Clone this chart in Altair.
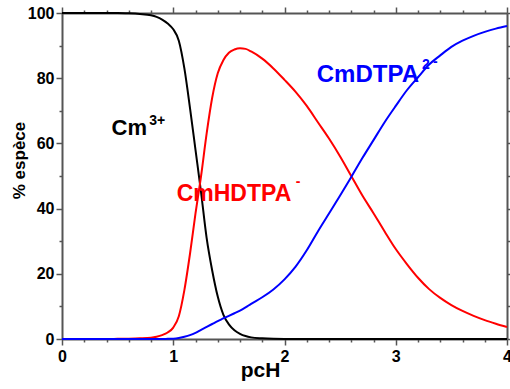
import altair as alt
import pandas as pd
import numpy as np

# ---- data ----
pch = [0.0, 0.2, 0.4, 0.5, 0.6, 0.7, 0.8, 0.85, 0.9, 0.95, 1.0, 1.05, 1.1, 1.15,
       1.2, 1.25, 1.3, 1.35, 1.4, 1.45, 1.5, 1.55, 1.6, 1.65, 1.7, 1.8, 1.9, 2.0,
       2.1, 2.2, 2.3, 2.4, 2.5, 2.6, 2.7, 2.8, 2.9, 3.0, 3.1, 3.2, 3.3, 3.4, 3.5,
       3.6, 3.7, 3.8, 3.9, 4.0]

cm3 = [100, 100, 100, 100, 99.9, 99.7, 99.3, 98.8, 98.0, 96.8, 95.0, 91.5, 83, 71,
       58, 45, 31, 21, 13, 7.5, 4.5, 2.7, 1.6, 0.9, 0.5, 0.2, 0.05, 0,
       0, 0, 0, 0, 0, 0, 0, 0, 0, 0, 0, 0, 0, 0, 0,
       0, 0, 0, 0, 0]

cmhdtpa = [0, 0, 0, 0.05, 0.1, 0.2, 0.4, 0.7, 1.2, 2.0, 3.5, 7.0, 15.0, 26,
           38.5, 50, 63, 74, 81.5, 85.5, 87.8, 88.8, 89.2, 89.0, 88.2, 86, 83, 79.5,
           75.8, 71.5, 66.5, 61.5, 56, 50, 44, 38.6, 33, 27.6, 23, 18.8, 15.3, 12.6, 10.4,
           8.6, 7.1, 5.8, 4.7, 3.7]

cmdtpa = [0, 0, 0, 0, 0, 0, 0, 0, 0, 0.05, 0.1, 0.3, 0.7, 1.2,
          1.9, 2.8, 3.7, 4.6, 5.5, 6.3, 7.1, 7.9, 8.7, 9.7, 10.8, 12.8, 15.2, 18.3,
          22.2, 27.2, 33, 38.5, 44, 49.7, 55.5, 61, 66.5, 71.5, 76.3, 80.3, 84.2, 87, 89.6,
          91.5, 93, 94.2, 95.2, 96]

species = ["Cm3+", "CmHDTPA-", "CmDTPA2-"]
colors = ["#000000", "#ff0000", "#0000ff"]

# annotations
ann_text = ["Cm", "3+", "CmHDTPA", "-", "CmDTPA", "2", "-"]
ann_species = ["Cm3+", "Cm3+", "CmHDTPA-", "CmHDTPA-", "CmDTPA2-", "CmDTPA2-", "CmDTPA2-"]
ann_x = [0.446, 0.785, 1.031, 2.10, 2.29, 3.236, 3.335]
ann_y = [62.6, 65.6, 42.3, 46.9, 78.8, 82.8, 83.7]
ann_size = [22, 14, 23, 14, 24, 14, 14]

x_ticks = [round(v, 1) for v in np.arange(0, 4.01, 0.2)]
y_ticks = list(range(0, 101, 10))

rows = []
for name, vals in zip(species, [cm3, cmhdtpa, cmdtpa]):
    for p, v in zip(pch, vals):
        rows.append({"pcH": p, "val": v, "species": name})
df = pd.DataFrame(rows)

ann = pd.DataFrame({"text": ann_text, "species": ann_species, "pcH": ann_x,
                    "val": ann_y, "fs": ann_size})

FONT = "Liberation Sans"
AX = "#555555"
color_scale = alt.Scale(domain=species, range=colors)
xscale = alt.Scale(domain=[0, 4], nice=False, zero=False)
yscale = alt.Scale(domain=[0, 100], nice=False)

x_major = "abs(datum.value - round(datum.value)) < 0.01"
y_major = "datum.value % 20 === 0"

common = dict(domainColor=AX, domainWidth=2, tickColor=AX, tickWidth=1.5,
              grid=False, labelFont=FONT, labelFontWeight="bold", labelFontSize=16,
              labelColor="#000000", titleFont=FONT, titleFontWeight="bold",
              titleColor="#000000", labelOverlap=False, labelFlush=False)
frame_common = {k: v for k, v in common.items()
                if not k.startswith("label") and not k.startswith("title")}

x_bottom = alt.Axis(values=x_ticks, orient="bottom",
                    labelExpr=f"{x_major} ? format(datum.value, 'd') : ''",
                    tickSize={"condition": {"test": x_major, "value": 6}, "value": 3},
                    labelPadding=3, title="pcH", titleFontSize=21,
                    titleX=198, titleY=37, titleBaseline="alphabetic", **common)
y_left = alt.Axis(values=y_ticks, orient="left",
                  labelExpr=f"{y_major} ? format(datum.value, 'd') : ''",
                  tickSize={"condition": {"test": y_major, "value": 6}, "value": 3},
                  labelPadding=2, title="% espèce", titleFontSize=17,
                  titleX=-38, titleY=147, titleBaseline="alphabetic", **common)
x_top = alt.Axis(values=x_ticks, orient="top", labels=False, title=None,
                 tickSize={"condition": {"test": x_major, "value": 6}, "value": 3},
                 **frame_common)
y_right = alt.Axis(values=y_ticks, orient="right", labels=False, title=None,
                   tickSize={"condition": {"test": y_major, "value": 6}, "value": 3},
                   **frame_common)

lines = alt.Chart(df).mark_line(strokeWidth=2, clip=False, interpolate="monotone").encode(
    x=alt.X("pcH:Q", scale=xscale, axis=x_bottom),
    y=alt.Y("val:Q", scale=yscale, axis=y_left),
    color=alt.Color("species:N", scale=color_scale, legend=None),
    detail="species:N",
)

frame = alt.Chart(df).mark_line(opacity=0).encode(
    x=alt.X("pcH:Q", scale=xscale, axis=x_top),
    y=alt.Y("val:Q", scale=yscale, axis=y_right),
    detail="species:N",
)

texts = alt.Chart(ann).mark_text(font=FONT, fontWeight="bold", align="left",
                                 baseline="alphabetic").encode(
    x=alt.X("pcH:Q", scale=xscale, axis=None),
    y=alt.Y("val:Q", scale=yscale, axis=None),
    text="text:N",
    color=alt.Color("species:N", scale=color_scale, legend=None),
    size=alt.Size("fs:Q", scale=None, legend=None),
)

chart = alt.layer(lines, frame, texts).resolve_axis(
    x="independent", y="independent"
).properties(
    width=445, height=326,
    autosize=alt.AutoSizeParams(type="none"),
    padding={"left": 62, "top": 13, "right": 3, "bottom": 50},
).configure_view(stroke=None).configure(background="white")

chart.save("out.html", embed_options={"renderer": "svg", "actions": False})
